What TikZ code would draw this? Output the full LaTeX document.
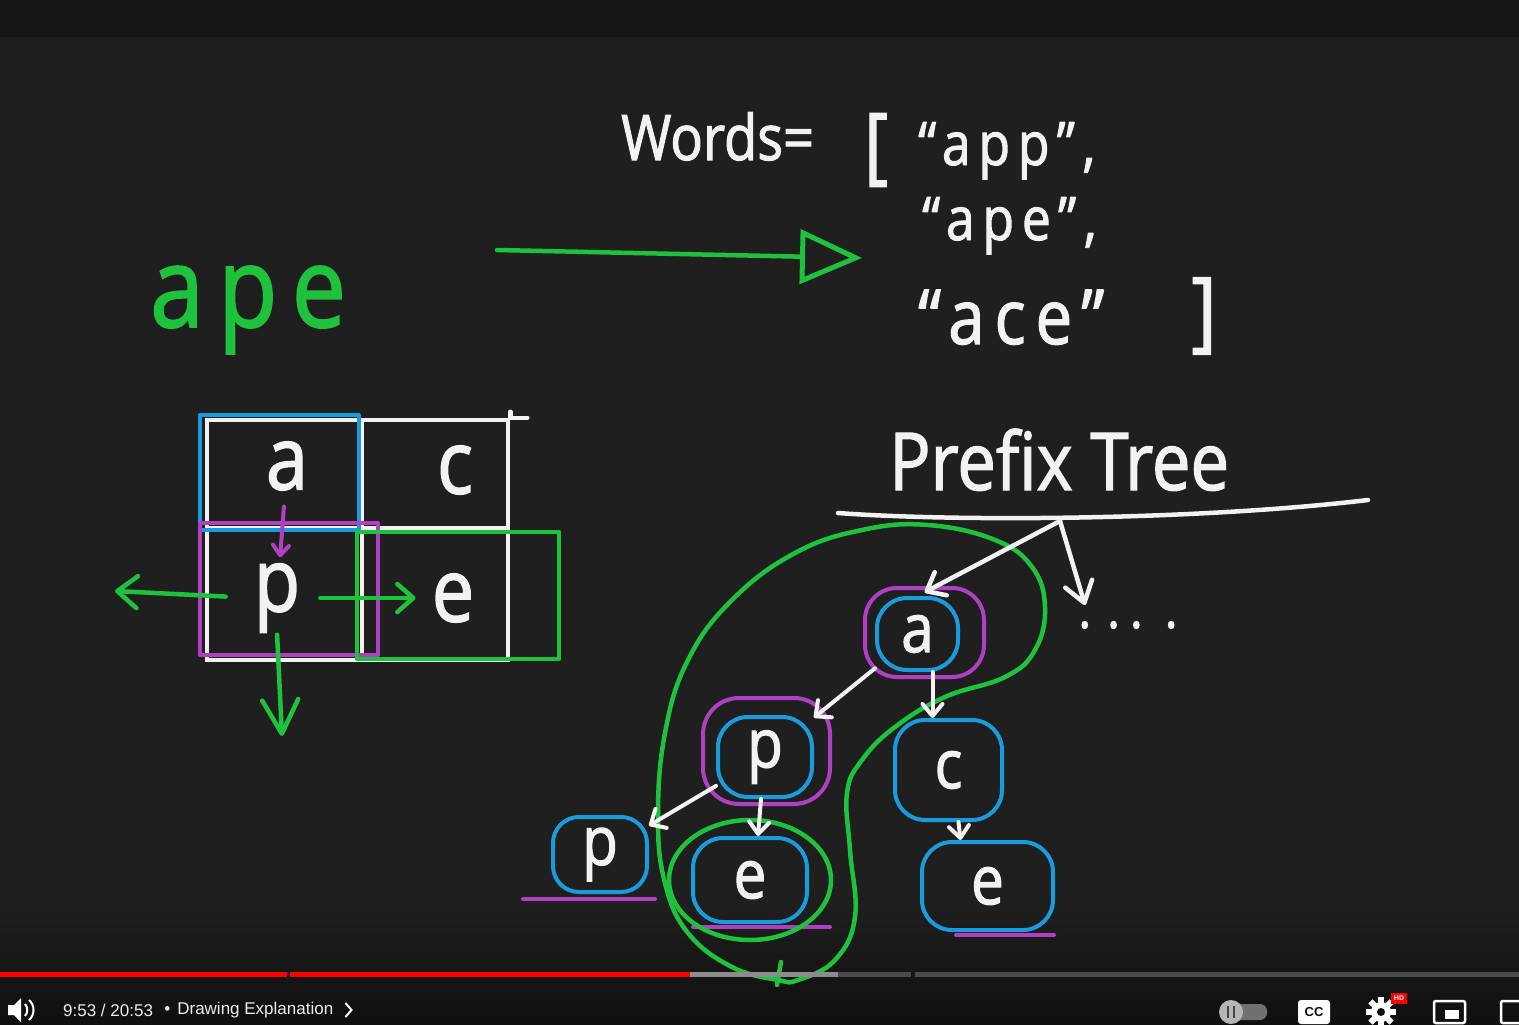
\documentclass[tikz,border=0pt]{standalone}
\usepackage{fontspec}
\setmainfont{Open Sans}
\newfontfamily\handfont[FakeStretch=0.86, FakeBold=1.6]{Open Sans}
\newfontfamily\spreadfont[FakeStretch=0.86, FakeBold=1.6, LetterSpace=13]{Open Sans}
\newfontfamily\uifont{Liberation Sans}
\usetikzlibrary{arrows.meta, positioning, calc}

\definecolor{board}{HTML}{1F1F1F}
\definecolor{topband}{HTML}{141414}
\definecolor{barbg}{HTML}{0F0F0F}
\definecolor{inkw}{HTML}{F2F2F2}
\definecolor{inkg}{HTML}{1FC23D}
\definecolor{inkb}{HTML}{1A9CDC}
\definecolor{inkp}{HTML}{B040C2}
\definecolor{ytred}{HTML}{FF0000}
\definecolor{barlight}{HTML}{8C8C8C}
\definecolor{bardark}{HTML}{4A4A4A}
\definecolor{knob}{HTML}{B5B5B5}
\definecolor{pill}{HTML}{707070}

\begin{document}
\begin{tikzpicture}[x=1pt, y=-1pt,
        pen/.style={line width=4.5pt, line cap=round, line join=round},
        ink/.style={pen, draw=inkw},
        grn/.style={pen, draw=inkg},
        blu/.style={pen, draw=inkb, line width=4pt},
        pur/.style={pen, draw=inkp, line width=4pt},
        barb/.style 2 args={-{Straight Barb[round, length=#1, width=#2]}},
        hand/.style={inner sep=0pt, text=inkw, font=\handfont\fontsize{#1}{#1}\selectfont},
        spread/.style={inner sep=0pt, text=inkw, font=\spreadfont\fontsize{#1}{#1}\selectfont},
        cell/.style={draw=inkw, line width=4.5pt, inner sep=0pt},
        tnode/.style={draw=inkb, line width=4pt, rounded corners=30pt, inner sep=0pt,
                      text=inkw, font=\handfont\fontsize{68}{68}\selectfont},
        ui/.style={inner sep=0pt, text=white!93!black, font=\uifont\fontsize{17}{17}\selectfont}
    ]
    \useasboundingbox (0,0) rectangle (1519,1025);

    % --- screen ---
    \fill[board] (0,0) rectangle (1519,1025);
    \fill[topband] (0,0) rectangle (1519,37);
    \shade[top color=board, bottom color=barbg] (0,905) rectangle (1519,1025);

    % --- word list ---
    \node[hand=63, anchor=base west] (words) at (621,160) {Words=};
    \node[hand=84] (lbr) at (876,150) {[};
    \node[spread=60, anchor=base west] (app) at (918,165) {“app”,};
    \node[spread=60, anchor=base west] (ape) at (922,240) {“ape”,};
    \node[spread=76, anchor=base west] (ace) at (918,344) {“ace”};
    \node[hand=88] (rbr) at (1204,316) {]};

    % --- searched word ---
    \node[spread=112, text=inkg, anchor=base west] (query) at (150,327) {ape};
    \coordinate (goFrom) at (497,250);
    \coordinate (goTo) at (862,258);
    \draw[grn, -{Triangle[open, length=62pt, width=54pt, line width=5pt]}] (goFrom) -- (goTo);

    % --- board ---
    \node[cell, minimum width=155pt, minimum height=108pt] (cA) at (284.5,474) {};
    \node[cell, minimum width=146pt, minimum height=108pt] (cC) at (435,474) {};
    \node[cell, minimum width=155pt, minimum height=132pt] (cP) at (284.5,594) {};
    \node[cell, minimum width=146pt, minimum height=132pt] (cE) at (435,594) {};
    \draw[ink] (cC.north east) -- ++(17,0);
    \draw[ink] (cC.north east) -- ++(0,-6);
    \node[hand=88] (la) at (287,466) {a};
    \node[hand=88] (lc) at (455,470) {c};
    \node[hand=88] (lp) at (277,598) {p};
    \node[hand=88] (le) at (453,598) {e};
    % highlights
    \draw[blu] (200,415) rectangle (359,530);
    \draw[pur] (200,523) rectangle (378,655);
    \draw[grn] (357,532) rectangle (559,659);
    % neighbours
    \coordinate (goLeft) at (115,591);
    \coordinate (goDown) at (282,736);
    \draw[pur, barb={10pt}{16pt}, shorten <=16pt, shorten >=6pt] (la) -- (lp);
    \draw[grn, barb={20pt}{32pt}, shorten <=28pt] (lp.west) -- (goLeft);
    \draw[grn, barb={16pt}{28pt}, shorten <=20pt, shorten >=16pt] (lp.east) -- (le.west);
    \draw[grn, barb={34pt}{36pt}, shorten <=2pt] (lp.south) -- (goDown);

    % --- prefix tree ---
    \node[hand=80, anchor=base west] (ptitle) at (889,490) {Prefix Tree};
    \draw[ink] (838,513) .. controls (960,522) and (1200,520) .. (1368,500);
    \coordinate (root) at (1060,521);
    \coordinate (more) at (1085,605);
    \node[hand=56] (dots) at (1128,625) {.\hspace{16pt}.\hspace{10pt}.\hspace{22pt}.};

    \node[tnode, minimum width=81pt, minimum height=72pt] (ta) at (917.5,634) {a};
    \node[tnode, minimum width=94pt, minimum height=80pt] (tp) at (765,757) {p};
    \node[tnode, minimum width=107pt, minimum height=100pt] (tc) at (948.5,770) {c};
    \node[tnode, minimum width=94pt, minimum height=75pt, rounded corners=26pt] (tpl) at (600,854.5) {p};
    \node[tnode, minimum width=114pt, minimum height=84pt] (tem) at (750,880) {e};
    \node[tnode, minimum width=131pt, minimum height=88pt] (ter) at (987.5,886) {e};

    % rings and marks
    \draw[pur, rounded corners=32pt] ($(ta.north west)+(-10,-8)$) rectangle ($(ta.south east)+(24,5)$);
    \draw[pur, rounded corners=36pt] ($(tp.north west)+(-13,-17)$) rectangle ($(tp.south east)+(16,5)$);
    \draw[pur] ($(tpl.south west)+(-28,5)$) -- ($(tpl.south east)+(6,5)$);
    \draw[pur] ($(tem.south west)+(2,3)$) -- ($(tem.south east)+(21,3)$);
    \draw[pur] ($(ter.south west)+(36,3)$) -- ($(ter.south east)+(-1,3)$);
    \draw[grn] (tem) ellipse[x radius=81, y radius=60];
    \draw[grn] plot[smooth cycle, tension=0.7] coordinates {
        (778,980) (732,967) (688,933) (665,883) (658,817) (665,733) (688,660)
        (732,600) (795,553) (862,530) (928,525) (995,540) (1032,567) (1045,607)
        (1035,650) (1005,677) (945,697) (895,727) (862,760) (847,793) (850,850)
        (855,917) (835,960) (798,980)};
    \draw[grn] (781,962) -- (777,985);

    % edges
    \draw[ink, barb={16pt}{26pt}, shorten >=8pt] (root) -- (ta.north);
    \draw[ink, barb={20pt}{28pt}] (root) -- (more);
    \draw[ink, line width=4pt, barb={12pt}{22pt}] (ta) -- (tp);
    \draw[ink, line width=4pt, barb={12pt}{20pt}] ([xshift=15pt]ta.south) -- ([xshift=-16pt]tc.north);
    \draw[ink, line width=4pt, barb={12pt}{22pt}] (tp) -- (tpl);
    \draw[ink, line width=4pt, barb={12pt}{20pt}] ([xshift=-4pt]tp.south) -- ([xshift=8pt]tem.north);
    \draw[ink, line width=4pt, barb={12pt}{20pt}] ([xshift=10pt]tc.south) -- ([xshift=-27pt]ter.north);

    % --- player bar ---
    \fill[ytred] (0,972) rectangle (287,977);
    \fill[ytred] (290,972) rectangle (690,977);
    \fill[barlight] (690,972) rectangle (838,977);
    \fill[bardark] (838,972) rectangle (911,977);
    \fill[bardark] (915,972) rectangle (1519,977);

    \fill[white] (8,1005) -- (14,1005) -- (21,998) -- (21,1022) -- (14,1015) -- (8,1015) -- cycle;
    \draw[white, line width=2pt] (25,1004) .. controls (28,1007) and (28,1013) .. (25,1016);
    \draw[white, line width=2pt] (29,1000) .. controls (35,1005) and (35,1015) .. (29,1020);
    \node[ui, anchor=west] (clock) at (63,1010) {9:53 / 20:53};
    \node[ui, anchor=west, right=11pt of clock] (chapter) {•\hspace{7pt}Drawing Explanation};
    \draw[white, line width=2pt] ($(chapter.east)+(12,-7)$) -- ++(6,7) -- ++(-6,7);

    \fill[pill, rounded corners=7pt] (1220,1004) rectangle (1267,1020);
    \fill[knob] (1231,1012) circle[radius=12];
    \fill[pill!60!black] (1226.5,1006) rectangle (1229,1018);
    \fill[pill!60!black] (1232.5,1006) rectangle (1235,1018);

    \fill[white, rounded corners=3pt] (1298,1000) rectangle (1330,1024);
    \node[inner sep=0pt, text=barbg, font=\uifont\bfseries\fontsize{13}{13}\selectfont] (cc) at (1314,1012) {CC};

    \fill[white] (1381,1012) circle[radius=10];
    \foreach \ang in {0,45,...,315}
        \fill[white, rotate around={\ang:(1381,1012)}] (1378,997) rectangle (1384,1003);
    \fill[barbg] (1381,1012) circle[radius=4];
    \fill[ytred] (1391,993) rectangle (1407,1004);
    \node[inner sep=0pt, text=white, font=\uifont\bfseries\fontsize{7}{7}\selectfont] (hd) at (1399,998.5) {HD};

    \draw[white, line width=2.5pt, rounded corners=2pt] (1434,1001) rectangle (1465,1023);
    \fill[white] (1445,1010) rectangle (1459,1019);
    \draw[white, line width=2.5pt, rounded corners=2pt] (1501,1001) rectangle (1530,1023);
\end{tikzpicture}
\end{document}
